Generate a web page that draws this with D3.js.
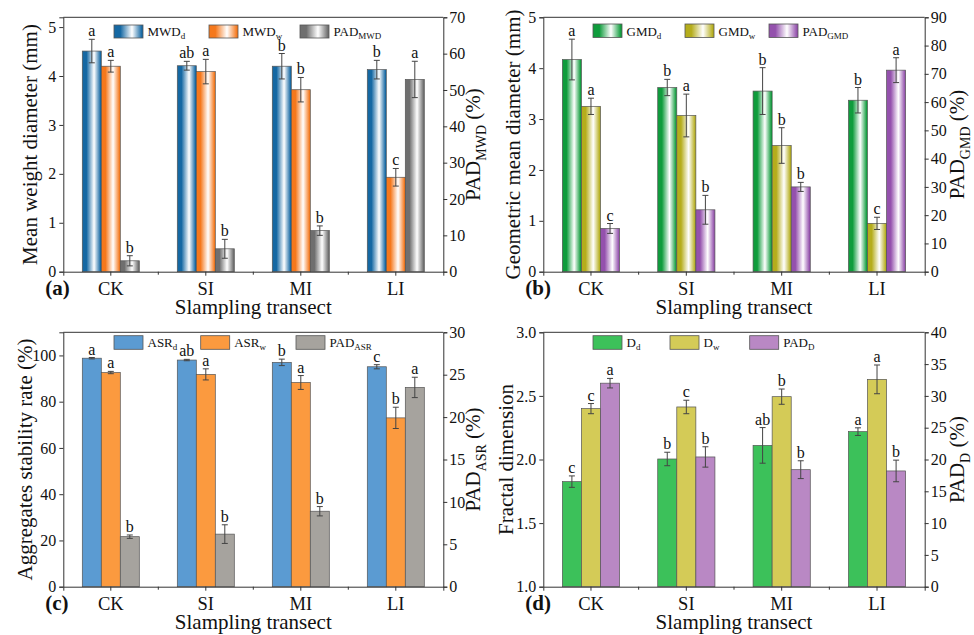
<!DOCTYPE html>
<html><head><meta charset="utf-8">
<script src="https://cdn.jsdelivr.net/npm/d3@7"></script>
<style>
body{margin:0;background:#fff}
svg{display:block}
text{font-family:"Liberation Serif","Times New Roman",serif;fill:#111}
</style>
</head><body>
<svg id="chart" width="974" height="635"></svg>
<script>
// ---------- data ----------
const categories = ["CK", "SI", "MI", "LI"];

// (a) mean weight diameter
const mwdD = [4.51, 4.21, 4.20, 4.13];
const mwdDErr = [0.24, 0.09, 0.26, 0.19];
const mwdDLetters = ["a", "ab", "b", "b"];
const mwdW = [4.20, 4.09, 3.72, 1.93];
const mwdWErr = [0.12, 0.25, 0.25, 0.18];
const mwdWLetters = ["a", "a", "b", "c"];
const padMwd = [3.0, 6.3, 11.3, 52.9];
const padMwdErr = [1.4, 2.6, 1.3, 5.0];
const padMwdLetters = ["b", "b", "b", "a"];

// (b) geometric mean diameter
const gmdD = [4.17, 3.62, 3.55, 3.37];
const gmdDErr = [0.40, 0.16, 0.46, 0.25];
const gmdDLetters = ["a", "b", "b", "b"];
const gmdW = [3.25, 3.07, 2.48, 0.95];
const gmdWErr = [0.16, 0.42, 0.35, 0.12];
const gmdWLetters = ["a", "a", "b", "c"];
const padGmd = [15.3, 21.9, 30.0, 71.3];
const padGmdErr = [1.75, 5.1, 1.6, 4.4];
const padGmdLetters = ["c", "b", "b", "a"];

// (c) aggregates stability rate
const asrD = [98.8, 98.0, 97.0, 95.1];
const asrDErr = [0.3, 0.3, 1.4, 0.9];
const asrDLetters = ["a", "ab", "b", "c"];
const asrW = [92.6, 91.8, 88.3, 73.0];
const asrWErr = [0.5, 2.4, 3.0, 4.6];
const asrWLetters = ["a", "a", "a", "b"];
const padAsr = [5.9, 6.2, 8.9, 23.5];
const padAsrErr = [0.2, 1.1, 0.55, 1.2];
const padAsrLetters = ["b", "b", "b", "a"];

// (d) fractal dimension
const dD = [1.826, 2.004, 2.111, 2.219];
const dDErr = [0.045, 0.053, 0.14, 0.03];
const dDLetters = ["c", "b", "ab", "a"];
const dW = [2.40, 2.413, 2.494, 2.630];
const dWErr = [0.04, 0.053, 0.06, 0.113];
const dWLetters = ["c", "c", "b", "a"];
const padD = [32.0, 20.4, 18.4, 18.2];
const padDErr = [0.75, 1.6, 1.4, 1.7];
const padDLetters = ["a", "b", "b", "b"];

// axis tick values
const ticksA = [0, 1, 2, 3, 4, 5], ticksAR = [0, 10, 20, 30, 40, 50, 60, 70];
const ticksB = [0, 1, 2, 3, 4, 5], ticksBR = [0, 10, 20, 30, 40, 50, 60, 70, 80, 90];
const ticksC = [0, 20, 40, 60, 80, 100], ticksCR = [0, 5, 10, 15, 20, 25, 30];
const ticksD = [1.0, 1.5, 2.0, 2.5, 3.0], ticksDR = [0, 5, 10, 15, 20, 25, 30, 35, 40];

// ---------- drawing ----------
const svg = d3.select("#chart");
const defs = svg.append("defs");

function makeGrad(id, dark) {
  const g = defs.append("linearGradient").attr("id", id)
    .attr("x1", "0%").attr("x2", "100%").attr("y1", "0%").attr("y2", "0%");
  [[0, dark], [0.22, dark], [0.62, "#ffffff"], [0.96, dark], [1, dark]].forEach(([o, c]) =>
    g.append("stop").attr("offset", o).attr("stop-color", c));
  return `url(#${id})`;
}

const gBlue = makeGrad("gBlue", "#1568a3");
const gOrange = makeGrad("gOrange", "#f5781c");
const gGray = makeGrad("gGray", "#6f6f6f");
const gGreen = makeGrad("gGreen", "#0f9c3c");
const gYellow = makeGrad("gYellow", "#b5ad1c");
const gPurple = makeGrad("gPurple", "#9451ad");

const panels = [
  {
    tag: "(a)", left: 63.3, right: 443.3, top: 17.3, bottom: 271.7,
    yDomain: [0, 5.2], yTicks: ticksA, yFmt: d3.format("d"),
    rDomain: [0, 70], rTicks: ticksAR,
    yTitle: [["Mean weight diameter (mm)", 0]], yTitleX: 36.5,
    rTitle: [["PAD", 0], ["MWD", 1], [" (%)", 0]], rTitleX: 480,
    legendX: [114, 209, 300], legendY: 25, legendH: 13, legendText: 36,
    series: [
      { name: "MWD", sub: "d", v: mwdD, e: mwdDErr, l: mwdDLetters, axis: "L", fill: gBlue },
      { name: "MWD", sub: "w", v: mwdW, e: mwdWErr, l: mwdWLetters, axis: "L", fill: gOrange },
      { name: "PAD", sub: "MWD", v: padMwd, e: padMwdErr, l: padMwdLetters, axis: "R", fill: gGray }
    ]
  },
  {
    tag: "(b)", left: 543.3, right: 924.7, top: 17.3, bottom: 271.7,
    yDomain: [0, 5], yTicks: ticksB, yFmt: d3.format("d"),
    rDomain: [0, 90], rTicks: ticksBR,
    yTitle: [["Geometric mean diameter (mm)", 0]], yTitleX: 520,
    rTitle: [["PAD", 0], ["GMD", 1], [" (%)", 0]], rTitleX: 964,
    legendX: [593, 685, 769], legendY: 24, legendH: 13.5, legendText: 36,
    series: [
      { name: "GMD", sub: "d", v: gmdD, e: gmdDErr, l: gmdDLetters, axis: "L", fill: gGreen },
      { name: "GMD", sub: "w", v: gmdW, e: gmdWErr, l: gmdWLetters, axis: "L", fill: gYellow },
      { name: "PAD", sub: "GMD", v: padGmd, e: padGmdErr, l: padGmdLetters, axis: "R", fill: gPurple }
    ]
  },
  {
    tag: "(c)", left: 63.3, right: 443.3, top: 332.3, bottom: 586.7,
    yDomain: [0, 110], yTicks: ticksC, yFmt: d3.format("d"),
    rDomain: [0, 30], rTicks: ticksCR,
    yTitle: [["Aggregates stability rate (%)", 0]], yTitleX: 31.7,
    rTitle: [["PAD", 0], ["ASR", 1], [" (%)", 0]], rTitleX: 480,
    legendX: [114, 200.7, 296], legendY: 335.7, legendH: 13.6, legendText: 347.3,
    series: [
      { name: "ASR", sub: "d", v: asrD, e: asrDErr, l: asrDLetters, axis: "L", fill: "#5b9bd2" },
      { name: "ASR", sub: "w", v: asrW, e: asrWErr, l: asrWLetters, axis: "L", fill: "#fb9a3f" },
      { name: "PAD", sub: "ASR", v: padAsr, e: padAsrErr, l: padAsrLetters, axis: "R", fill: "#a6a39e" }
    ]
  },
  {
    tag: "(d)", left: 543.3, right: 924.7, top: 332.3, bottom: 586.7,
    yDomain: [1, 3], yTicks: ticksD, yFmt: d3.format(".1f"),
    rDomain: [0, 40], rTicks: ticksDR,
    yTitle: [["Fractal dimension", 0]], yTitleX: 513.3,
    rTitle: [["PAD", 0], ["D", 1], [" (%)", 0]], rTitleX: 964,
    legendX: [593, 670, 749.7], legendY: 335.7, legendH: 13.6, legendText: 347.3,
    series: [
      { name: "D", sub: "d", v: dD, e: dDErr, l: dDLetters, axis: "L", fill: "#3cc15a" },
      { name: "D", sub: "w", v: dW, e: dWErr, l: dWLetters, axis: "L", fill: "#d4cb57" },
      { name: "PAD", sub: "D", v: padD, e: padDErr, l: padDLetters, axis: "R", fill: "#b988c4" }
    ]
  }
];

const AX = "#333";

function richText(sel, parts, size, subSize) {
  let shifted = false;
  parts.forEach(([t, isSub]) => {
    const ts = sel.append("tspan").text(t);
    if (isSub && !shifted) { ts.attr("font-size", subSize).attr("dy", size * 0.28); shifted = true; }
    else if (!isSub && shifted) { ts.attr("font-size", size).attr("dy", -size * 0.28); shifted = false; }
    else if (isSub) ts.attr("font-size", subSize);
  });
}

panels.forEach(p => {
  const g = svg.append("g");
  const x = d3.scaleBand().domain(categories).range([p.left, p.right]).padding(0);
  const y = d3.scaleLinear().domain(p.yDomain).range([p.bottom, p.top]);
  const yr = d3.scaleLinear().domain(p.rDomain).range([p.bottom, p.top]);
  const bw = x.bandwidth() * 0.2;
  const sub = d3.scaleBand().domain([0, 1, 2]).range([-1.5 * bw, 1.5 * bw]);

  // bars
  p.series.forEach((s, si) => {
    const sc = s.axis === "L" ? y : yr;
    const base = sc.domain()[0];
    categories.forEach((c, ci) => {
      const cx = x(c) + x.bandwidth() / 2 + sub(si);
      g.append("rect")
        .attr("x", cx).attr("width", bw)
        .attr("y", sc(s.v[ci])).attr("height", sc(base) - sc(s.v[ci]))
        .attr("fill", s.fill).attr("stroke", "#555").attr("stroke-width", 0.7);
    });
  });
  // error bars + letters
  p.series.forEach((s, si) => {
    const sc = s.axis === "L" ? y : yr;
    categories.forEach((c, ci) => {
      const mx = x(c) + x.bandwidth() / 2 + sub(si) + bw / 2;
      const hi = sc(s.v[ci] + s.e[ci]), lo = sc(s.v[ci] - s.e[ci]);
      const eg = g.append("g").attr("stroke", "#444").attr("stroke-width", 1);
      eg.append("line").attr("x1", mx).attr("x2", mx).attr("y1", hi).attr("y2", lo);
      eg.append("line").attr("x1", mx - 3).attr("x2", mx + 3).attr("y1", hi).attr("y2", hi);
      eg.append("line").attr("x1", mx - 3).attr("x2", mx + 3).attr("y1", lo).attr("y2", lo);
      g.append("text").attr("x", mx).attr("y", hi - 3)
        .attr("text-anchor", "middle").attr("font-size", 16).text(s.l[ci]);
    });
  });

  // frame
  g.append("line").attr("x1", p.left).attr("x2", p.right).attr("y1", p.top).attr("y2", p.top)
    .attr("stroke", AX).attr("stroke-width", 1);

  // left axis
  const la = g.append("g").attr("transform", `translate(${p.left},0)`)
    .call(d3.axisLeft(y).tickValues(p.yTicks).tickFormat(p.yFmt).tickSize(4).tickPadding(3));
  // right axis
  const ra = g.append("g").attr("transform", `translate(${p.right},0)`)
    .call(d3.axisRight(yr).tickValues(p.rTicks).tickFormat(d3.format("d")).tickSize(4).tickPadding(2));
  // bottom axis
  const ba = g.append("g").attr("transform", `translate(0,${p.bottom})`)
    .call(d3.axisBottom(x).tickSize(4).tickPadding(6));
  // minor ticks at band boundaries
  categories.slice(1).forEach(c => {
    g.append("line").attr("x1", x(c)).attr("x2", x(c)).attr("y1", p.bottom).attr("y2", p.bottom + 3)
      .attr("stroke", AX).attr("stroke-width", 1);
  });
  [la, ra, ba].forEach(a => {
    a.select(".domain").attr("stroke", AX).attr("stroke-width", 1);
    a.selectAll(".tick line").attr("stroke", AX).attr("stroke-width", 1);
    a.selectAll("text").attr("font-family", "Liberation Serif").attr("fill", "#222");
  });
  la.selectAll("text").attr("font-size", 16);
  ra.selectAll("text").attr("font-size", 16);
  ba.selectAll("text").attr("font-size", 18.5).attr("fill", "#111");

  // panel tag
  g.append("text").attr("x", p.left - 18).attr("y", p.bottom + 23)
    .attr("font-size", 21).attr("font-weight", "bold").text(p.tag);

  // x title
  g.append("text").attr("x", (p.left + p.right) / 2).attr("y", p.bottom + 42.5)
    .attr("text-anchor", "middle").attr("font-size", 21).text("Slampling transect");

  // y titles
  const cy = (p.top + p.bottom) / 2;
  const yt = g.append("text").attr("transform", `translate(${p.yTitleX},${cy}) rotate(-90)`)
    .attr("text-anchor", "middle").attr("font-size", 21);
  richText(yt, p.yTitle, 21, 14);
  const rt = g.append("text").attr("transform", `translate(${p.rTitleX},${cy}) rotate(-90)`)
    .attr("text-anchor", "middle").attr("font-size", 21);
  richText(rt, p.rTitle, 21, 14);

  // legend
  p.series.forEach((s, si) => {
    const lx = p.legendX[si];
    g.append("rect").attr("x", lx).attr("y", p.legendY).attr("width", 29).attr("height", p.legendH)
      .attr("fill", s.fill).attr("stroke", "#555").attr("stroke-width", 0.8);
    const t = g.append("text").attr("x", lx + 33.5).attr("y", p.legendText).attr("font-size", 13);
    t.append("tspan").text(s.name);
    t.append("tspan").attr("font-size", 9).attr("dy", 3).text(s.sub);
  });
});
</script>
</body></html>
